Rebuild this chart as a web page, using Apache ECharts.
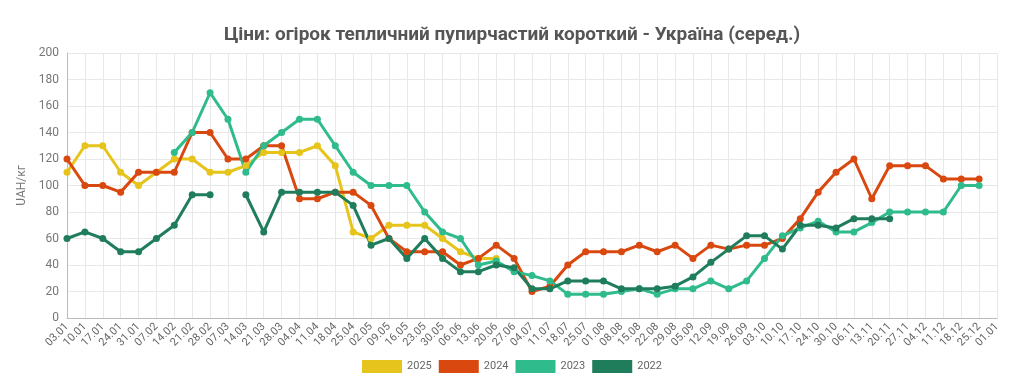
<!DOCTYPE html>
<html>
<head>
<meta charset="utf-8">
<script src="https://cdn.jsdelivr.net/npm/echarts@6/dist/echarts.min.js"></script>
<style>
html,body{margin:0;padding:0;background:#fff;}
#c{width:1024px;height:383px;}
</style>
</head>
<body>
<div id="c"></div>
<script>
const categories = ["03.01","10.01","17.01","24.01","31.01","07.02","14.02","21.02","28.02","07.03","14.03","21.03","28.03","04.04","11.04","18.04","25.04","02.05","09.05","16.05","23.05","30.05","06.06","13.06","20.06","27.06","04.07","11.07","18.07","25.07","01.08","08.08","15.08","22.08","29.08","05.09","12.09","19.09","26.09","03.10","10.10","17.10","24.10","30.10","06.11","13.11","20.11","27.11","04.12","11.12","18.12","25.12","01.01"];
const s2025 = [110,130,130,110,100,110,120,120,110,110,115,125,125,125,130,115,65,60,70,70,70,60,50,45,45,null,null,null,null,null,null,null,null,null,null,null,null,null,null,null,null,null,null,null,null,null,null,null,null,null,null,null,null];
const s2024 = [120,100,100,95,110,110,110,140,140,120,120,130,130,90,90,95,95,85,60,50,50,50,40,45,55,45,20,24,40,50,50,50,55,50,55,45,55,52,55,55,60,75,95,110,120,90,115,115,115,105,105,105,null];
const s2023 = [null,null,null,null,null,null,125,140,170,150,110,130,140,150,150,130,110,100,100,100,80,65,60,40,43,35,32,28,18,18,18,20,22,18,22,22,28,22,28,45,62,68,73,65,65,72,80,80,80,80,100,100,null];
const s2022 = [60,65,60,50,50,60,70,93,93,null,93,65,95,95,95,95,85,55,60,45,60,45,35,35,40,38,22,22,28,28,28,22,22,22,24,31,42,52,62,62,52,70,70,68,75,75,75,null,null,null,null,null,null];
const seriesNames = ["2025","2024","2023","2022"];
const colors = ["#e6c41b","#d9480f","#2fbb8c","#1f7d5b"];
const yTicks = {min:0,max:200,interval:20};

const chart = echarts.init(document.getElementById('c'));
const mk = (name, data, color) => ({
  name, type:'line', data, connectNulls:false,
  symbol:'circle', symbolSize:7, showSymbol:true,
  lineStyle:{width:3,color}, itemStyle:{color}, emphasis:{disabled:true}
});
chart.setOption({
  animation:false,
  color:colors,
  title:{text:'Ціни: огірок тепличний пупирчастий короткий - Україна (серед.)',left:'center',top:21,
    textStyle:{fontFamily:'Roboto',fontSize:19,fontWeight:'bold',color:'#555'}},
  legend:{bottom:5,left:'center',itemWidth:40,itemHeight:13,itemGap:7,icon:'rect',
    textStyle:{fontFamily:'Roboto',fontSize:11,color:'#666'},data:seriesNames},
  grid:{left:67,right:27,top:53,bottom:65,containLabel:false},
  xAxis:{type:'category',data:categories,boundaryGap:false,
    axisLine:{show:true,lineStyle:{color:'#bbb'}},axisTick:{show:false},
    axisLabel:{rotate:45,fontFamily:'Roboto',fontSize:11,color:'#666',interval:0,margin:7},
    splitLine:{show:true,lineStyle:{color:'#e8e8e8'}}},
  yAxis:{type:'value',min:yTicks.min,max:yTicks.max,interval:yTicks.interval,
    name:'UAH/кг',nameLocation:'middle',nameGap:37,nameRotate:90,
    nameTextStyle:{fontFamily:'Roboto',fontSize:12,color:'#777'},
    axisLine:{show:true,lineStyle:{color:'#bbb'}},axisTick:{show:false},
    axisLabel:{fontFamily:'Roboto',fontSize:12,color:'#777',margin:8},
    splitLine:{show:true,lineStyle:{color:'#e8e8e8'}}},
  series:[mk(seriesNames[0],s2025,colors[0]),mk(seriesNames[1],s2024,colors[1]),mk(seriesNames[2],s2023,colors[2]),mk(seriesNames[3],s2022,colors[3])]
});
</script>
</body>
</html>
